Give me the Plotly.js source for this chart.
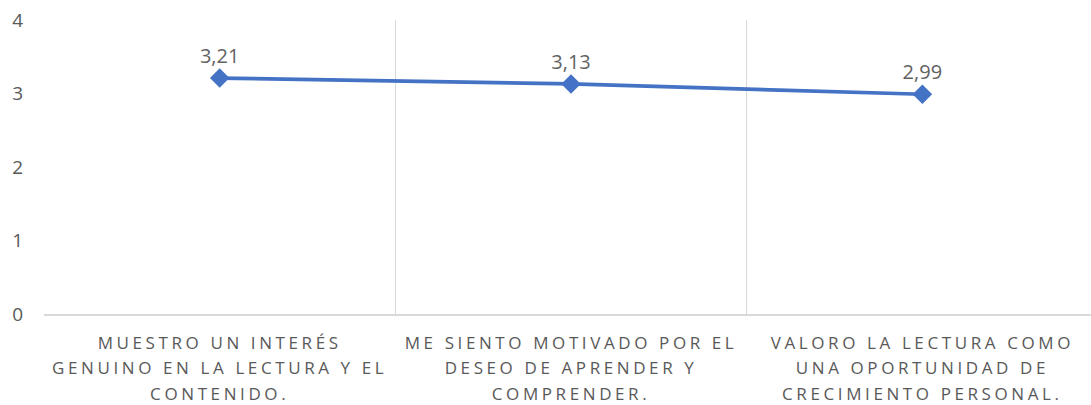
<!DOCTYPE html>
<html>
<head>
<meta charset="utf-8">
<script src="https://cdn.plot.ly/plotly-3.0.1.min.js"></script>
<style>
html, body { margin: 0; padding: 0; background: #fff; }
#chart { width: 1091px; height: 405px; }
.xtick text { letter-spacing: 3.6px; }
</style>
</head>
<body>
<div id="chart"></div>
<script>
const categories = [
  "MUESTRO UN INTERÉS<br>GENUINO EN LA LECTURA Y EL<br>CONTENIDO.",
  "ME SIENTO MOTIVADO POR EL<br>DESEO DE APRENDER Y<br>COMPRENDER.",
  "VALORO LA LECTURA COMO<br>UNA OPORTUNIDAD DE<br>CRECIMIENTO PERSONAL."
];
const values = [3.21, 3.13, 2.99];
const yTicks = [0, 1, 2, 3, 4];

const textColor = "#595959";
const fontFam = "'Open Sans', Lato, sans-serif";
const xFontSize = 17;
const xLineSpacing = 25.3;

const trace = {
  x: categories,
  y: values,
  type: "scatter",
  mode: "lines+markers+text",
  line: { color: "#4472C4", width: 3.7 },
  marker: { symbol: "diamond", size: 15, color: "#4472C4" },
  texttemplate: "%{y:.2f}",
  textposition: "top center",
  textfont: { family: fontFam, size: 20, color: "#626262" },
  cliponaxis: false,
  hoverinfo: "skip"
};

const layout = {
  width: 1091,
  height: 405,
  margin: { l: 44, r: 0, t: 20, b: 91 },
  paper_bgcolor: "#ffffff",
  plot_bgcolor: "#ffffff",
  separators: ",.",
  showlegend: false,
  font: { family: fontFam, color: textColor },
  xaxis: {
    type: "category",
    range: [-0.5, 2.48],
    tickson: "boundaries",
    showgrid: true,
    gridcolor: "#d9d9d9",
    gridwidth: 1,
    showline: true,
    linecolor: "#d9d9d9",
    linewidth: 1.5,
    ticks: "",
    ticklabelstandoff: 13,
    tickfont: { family: fontFam, size: xFontSize, color: textColor },
    tickangle: 0,
    fixedrange: true
  },
  yaxis: {
    range: [0, 4],
    tickvals: yTicks,
    ticktext: yTicks.map(String),
    showgrid: false,
    zeroline: false,
    showline: false,
    ticks: "",
    ticklabelstandoff: 20,
    tickfont: { family: fontFam, size: 19, color: textColor },
    fixedrange: true
  }
};

Plotly.newPlot("chart", [trace], layout, { displayModeBar: false, staticPlot: true }).then(function (gd) {
  const factor = xLineSpacing / (1.3 * xFontSize);
  gd.querySelectorAll(".xtick text").forEach(function (t) {
    t.querySelectorAll("tspan.line").forEach(function (ts) {
      const dy = ts.getAttribute("dy");
      if (dy && dy.indexOf("em") > 0) {
        const v = parseFloat(dy);
        ts.setAttribute("dy", (v * factor) + "em");
      }
    });
  });
});
</script>
</body>
</html>
